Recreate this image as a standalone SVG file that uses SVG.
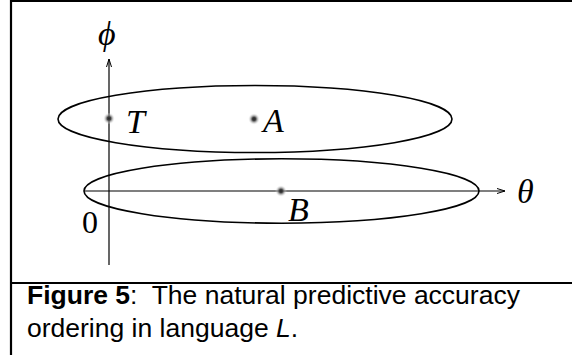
<svg xmlns="http://www.w3.org/2000/svg" width="572" height="355" viewBox="0 0 572 355">
<style>
.frame{fill:none;stroke:#000;stroke-width:2.2}
.ell{fill:none;stroke:#000;stroke-width:1.6}
.axis{fill:none;stroke:#000;stroke-width:1.2}
.math{font-family:"Liberation Serif","Times New Roman",serif;font-style:italic;font-size:34px;fill:#000}
.num{font-family:"Liberation Serif","Times New Roman",serif;font-size:32px;fill:#000}
.cap{font-family:"Liberation Sans",Arial,sans-serif;font-size:26.5px;fill:#000}
</style>
<defs>
<radialGradient id="dot">
<stop offset="0" stop-color="#222"/>
<stop offset="0.3" stop-color="#444"/>
<stop offset="0.6" stop-color="#999" stop-opacity="0.6"/>
<stop offset="1" stop-color="#fff" stop-opacity="0"/>
</radialGradient>
<marker id="arr" viewBox="0 0 8 6" refX="8" refY="3" markerWidth="8" markerHeight="6" markerUnits="userSpaceOnUse" orient="auto">
<path d="M0,0.5 L8,3 L0,5.5" fill="none" stroke="#000" stroke-width="1"/>
</marker>
</defs>
<rect width="572" height="355" fill="#fff"/>
<path class="frame" d="M11,355 V1 H572"/>
<line class="frame" x1="11" y1="283" x2="572" y2="283"/>
<g id="connectors">
<line class="axis" x1="109" y1="265" x2="109" y2="59" marker-end="url(#arr)"/>
<line class="axis" x1="85" y1="191" x2="505" y2="191" marker-end="url(#arr)"/>
</g>
<g id="setTop"><ellipse class="ell" cx="255" cy="119" rx="197" ry="33.5"/></g>
<g id="setBottom"><ellipse class="ell" cx="281.5" cy="191" rx="197.5" ry="32.2"/></g>
<g id="nodeT"><circle cx="109" cy="118.5" r="6" fill="url(#dot)"/><text class="math" x="126" y="132.5">T</text></g>
<g id="nodeA"><circle cx="254" cy="119" r="6" fill="url(#dot)"/><text class="math" x="263" y="131.5">A</text></g>
<g id="nodeB"><circle cx="281" cy="191" r="6" fill="url(#dot)"/><text class="math" x="288" y="220.5">B</text></g>
<g id="labels">
<text class="math" x="98" y="45">ϕ</text>
<text class="math" x="517" y="203">θ</text>
<text class="num" x="82" y="233">0</text>
</g>
<g id="caption">
<text class="cap" x="27" y="304" xml:space="preserve"><tspan font-weight="bold">Figure 5</tspan>:  The natural predictive accuracy</text>
<text class="cap" x="27" y="337">ordering in language <tspan font-style="italic">L</tspan>.</text>
</g>
</svg>
